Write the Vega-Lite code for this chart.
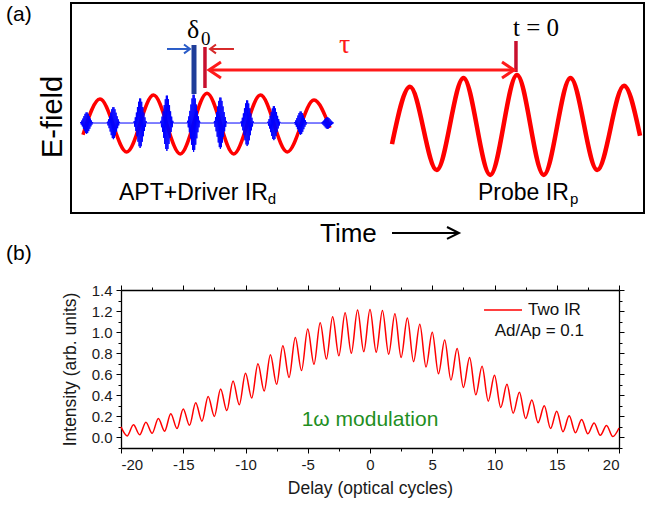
{
"$schema": "https://vega.github.io/schema/vega-lite/v6.json",
"background": "white",
"padding": {"left": 4, "top": 2, "right": 2, "bottom": 2},
"bounds": "flush",
"spacing": 77,
"config": {
  "font": "Liberation Sans",
  "view": {"stroke": null},
  "axis": {"grid": false, "domainColor": "#000000", "domainWidth": 1.3, "tickColor": "#000000", "tickWidth": 1, "labelFont": "Liberation Sans", "labelFontSize": 15, "labelColor": "#1a1a1a", "labelPadding": 4, "titleFont": "Liberation Sans", "titleFontSize": 17.5, "titleFontWeight": "normal", "titleColor": "#1a1a1a"}
},
"datasets": {
  "probe": [
    {"t": -2.336, "e": -0.41}, {"t": -2, "e": 0.76}, {"t": -1.5, "e": -0.94}, {"t": -1, "e": 0.94}, {"t": -0.5, "e": -1.04},
    {"t": 0, "e": 1.0}, {"t": 0.5, "e": -1.04}, {"t": 1, "e": 0.94}, {"t": 1.5, "e": -0.94}, {"t": 2, "e": 0.78}, {"t": 2.3, "e": -0.24}
  ],
  "driver": [
    {"t": -8.112, "e": -0.22}, {"t": -7.794, "e": 0.51}, {"t": -7.294, "e": -0.57}, {"t": -6.794, "e": 0.59}, {"t": -6.294, "e": -0.61},
    {"t": -5.794, "e": 0.63}, {"t": -5.294, "e": -0.61}, {"t": -4.794, "e": 0.59}, {"t": -4.294, "e": -0.57}, {"t": -3.794, "e": 0.49}, {"t": -3.495, "e": -0.08}
  ],
  "apt": [
    {"t":-8.164,"e":0.02},{"t":-8.154,"e":0.038},{"t":-8.144,"e":-0.013},{"t":-8.134,"e":0.071},{"t":-8.124,"e":-0.05},{"t":-8.114,"e":0.112},{"t":-8.104,"e":-0.097},{"t":-8.094,"e":0.161},{"t":-8.084,"e":-0.145},{"t":-8.074,"e":0.207},{"t":-8.064,"e":-0.185},{"t":-8.054,"e":0.236},{"t":-8.044,"e":-0.2},{"t":-8.034,"e":0.236},{"t":-8.024,"e":-0.185},{"t":-8.014,"e":0.207},{"t":-8.004,"e":-0.145},{"t":-7.994,"e":0.161},{"t":-7.984,"e":-0.097},{"t":-7.974,"e":0.112},{"t":-7.964,"e":-0.05},{"t":-7.954,"e":0.071},{"t":-7.944,"e":-0.013},{"t":-7.934,"e":0.038},{"t":-7.924,"e":0.02},
    {"t":-7.664,"e":0.02},{"t":-7.654,"e":0.046},{"t":-7.644,"e":-0.03},{"t":-7.634,"e":0.096},{"t":-7.624,"e":-0.086},{"t":-7.614,"e":0.159},{"t":-7.604,"e":-0.155},{"t":-7.594,"e":0.231},{"t":-7.584,"e":-0.228},{"t":-7.574,"e":0.301},{"t":-7.564,"e":-0.287},{"t":-7.554,"e":0.343},{"t":-7.544,"e":-0.31},{"t":-7.534,"e":0.343},{"t":-7.524,"e":-0.287},{"t":-7.514,"e":0.301},{"t":-7.504,"e":-0.228},{"t":-7.494,"e":0.231},{"t":-7.484,"e":-0.155},{"t":-7.474,"e":0.159},{"t":-7.464,"e":-0.086},{"t":-7.454,"e":0.096},{"t":-7.444,"e":-0.03},{"t":-7.434,"e":0.046},{"t":-7.424,"e":0.02},
    {"t":-7.164,"e":0.02},{"t":-7.154,"e":0.061},{"t":-7.144,"e":-0.057},{"t":-7.134,"e":0.137},{"t":-7.124,"e":-0.143},{"t":-7.114,"e":0.234},{"t":-7.104,"e":-0.25},{"t":-7.094,"e":0.346},{"t":-7.084,"e":-0.363},{"t":-7.074,"e":0.454},{"t":-7.064,"e":-0.454},{"t":-7.054,"e":0.52},{"t":-7.044,"e":-0.49},{"t":-7.034,"e":0.52},{"t":-7.024,"e":-0.454},{"t":-7.014,"e":0.454},{"t":-7.004,"e":-0.363},{"t":-6.994,"e":0.346},{"t":-6.984,"e":-0.25},{"t":-6.974,"e":0.234},{"t":-6.964,"e":-0.143},{"t":-6.954,"e":0.137},{"t":-6.944,"e":-0.057},{"t":-6.934,"e":0.061},{"t":-6.924,"e":0.02},
    {"t":-6.664,"e":0.02},{"t":-6.654,"e":0.066},{"t":-6.644,"e":-0.066},{"t":-6.634,"e":0.151},{"t":-6.624,"e":-0.162},{"t":-6.614,"e":0.259},{"t":-6.604,"e":-0.282},{"t":-6.594,"e":0.385},{"t":-6.584,"e":-0.408},{"t":-6.574,"e":0.505},{"t":-6.564,"e":-0.51},{"t":-6.554,"e":0.579},{"t":-6.544,"e":-0.55},{"t":-6.534,"e":0.579},{"t":-6.524,"e":-0.51},{"t":-6.514,"e":0.505},{"t":-6.504,"e":-0.408},{"t":-6.494,"e":0.385},{"t":-6.484,"e":-0.282},{"t":-6.474,"e":0.259},{"t":-6.464,"e":-0.162},{"t":-6.454,"e":0.151},{"t":-6.444,"e":-0.066},{"t":-6.434,"e":0.066},{"t":-6.424,"e":0.02},
    {"t":-6.164,"e":0.02},{"t":-6.154,"e":0.067},{"t":-6.144,"e":-0.069},{"t":-6.134,"e":0.156},{"t":-6.124,"e":-0.169},{"t":-6.114,"e":0.268},{"t":-6.104,"e":-0.293},{"t":-6.094,"e":0.398},{"t":-6.084,"e":-0.423},{"t":-6.074,"e":0.522},{"t":-6.064,"e":-0.529},{"t":-6.054,"e":0.598},{"t":-6.044,"e":-0.57},{"t":-6.034,"e":0.598},{"t":-6.024,"e":-0.529},{"t":-6.014,"e":0.522},{"t":-6.004,"e":-0.423},{"t":-5.994,"e":0.398},{"t":-5.984,"e":-0.293},{"t":-5.974,"e":0.268},{"t":-5.964,"e":-0.169},{"t":-5.954,"e":0.156},{"t":-5.944,"e":-0.069},{"t":-5.934,"e":0.067},{"t":-5.924,"e":0.02},
    {"t":-5.664,"e":0.02},{"t":-5.654,"e":0.062},{"t":-5.644,"e":-0.06},{"t":-5.634,"e":0.142},{"t":-5.624,"e":-0.15},{"t":-5.614,"e":0.243},{"t":-5.604,"e":-0.261},{"t":-5.594,"e":0.359},{"t":-5.584,"e":-0.378},{"t":-5.574,"e":0.471},{"t":-5.564,"e":-0.473},{"t":-5.554,"e":0.539},{"t":-5.544,"e":-0.51},{"t":-5.534,"e":0.539},{"t":-5.524,"e":-0.473},{"t":-5.514,"e":0.471},{"t":-5.504,"e":-0.378},{"t":-5.494,"e":0.359},{"t":-5.484,"e":-0.261},{"t":-5.474,"e":0.243},{"t":-5.464,"e":-0.15},{"t":-5.454,"e":0.142},{"t":-5.444,"e":-0.06},{"t":-5.434,"e":0.062},{"t":-5.424,"e":0.02},
    {"t":-5.164,"e":0.02},{"t":-5.154,"e":0.058},{"t":-5.144,"e":-0.051},{"t":-5.134,"e":0.128},{"t":-5.124,"e":-0.13},{"t":-5.114,"e":0.217},{"t":-5.104,"e":-0.229},{"t":-5.094,"e":0.321},{"t":-5.084,"e":-0.333},{"t":-5.074,"e":0.42},{"t":-5.064,"e":-0.417},{"t":-5.054,"e":0.481},{"t":-5.044,"e":-0.45},{"t":-5.034,"e":0.481},{"t":-5.024,"e":-0.417},{"t":-5.014,"e":0.42},{"t":-5.004,"e":-0.333},{"t":-4.994,"e":0.321},{"t":-4.984,"e":-0.229},{"t":-4.974,"e":0.217},{"t":-4.964,"e":-0.13},{"t":-4.954,"e":0.128},{"t":-4.944,"e":-0.051},{"t":-4.934,"e":0.058},{"t":-4.924,"e":0.02},
    {"t":-4.664,"e":0.02},{"t":-4.654,"e":0.048},{"t":-4.644,"e":-0.033},{"t":-4.634,"e":0.101},{"t":-4.624,"e":-0.092},{"t":-4.614,"e":0.167},{"t":-4.604,"e":-0.166},{"t":-4.594,"e":0.244},{"t":-4.584,"e":-0.243},{"t":-4.574,"e":0.318},{"t":-4.564,"e":-0.306},{"t":-4.554,"e":0.363},{"t":-4.544,"e":-0.33},{"t":-4.534,"e":0.363},{"t":-4.524,"e":-0.306},{"t":-4.514,"e":0.318},{"t":-4.504,"e":-0.243},{"t":-4.494,"e":0.244},{"t":-4.484,"e":-0.166},{"t":-4.474,"e":0.167},{"t":-4.464,"e":-0.092},{"t":-4.454,"e":0.101},{"t":-4.444,"e":-0.033},{"t":-4.434,"e":0.048},{"t":-4.424,"e":0.02},
    {"t":-4.164,"e":0.02},{"t":-4.154,"e":0.039},{"t":-4.144,"e":-0.016},{"t":-4.134,"e":0.075},{"t":-4.124,"e":-0.057},{"t":-4.114,"e":0.121},{"t":-4.104,"e":-0.107},{"t":-4.094,"e":0.174},{"t":-4.084,"e":-0.16},{"t":-4.074,"e":0.224},{"t":-4.064,"e":-0.203},{"t":-4.054,"e":0.255},{"t":-4.044,"e":-0.22},{"t":-4.034,"e":0.255},{"t":-4.024,"e":-0.203},{"t":-4.014,"e":0.224},{"t":-4.004,"e":-0.16},{"t":-3.994,"e":0.174},{"t":-3.984,"e":-0.107},{"t":-3.974,"e":0.121},{"t":-3.964,"e":-0.057},{"t":-3.954,"e":0.075},{"t":-3.944,"e":-0.016},{"t":-3.934,"e":0.039},{"t":-3.924,"e":0.02},
    {"t":-3.664,"e":0.02},{"t":-3.654,"e":0.03},{"t":-3.644,"e":0.002},{"t":-3.634,"e":0.048},{"t":-3.624,"e":-0.018},{"t":-3.614,"e":0.07},{"t":-3.604,"e":-0.044},{"t":-3.594,"e":0.097},{"t":-3.584,"e":-0.07},{"t":-3.574,"e":0.122},{"t":-3.564,"e":-0.092},{"t":-3.554,"e":0.138},{"t":-3.544,"e":-0.1},{"t":-3.534,"e":0.138},{"t":-3.524,"e":-0.092},{"t":-3.514,"e":0.122},{"t":-3.504,"e":-0.07},{"t":-3.494,"e":0.097},{"t":-3.484,"e":-0.044},{"t":-3.474,"e":0.07},{"t":-3.464,"e":-0.018},{"t":-3.454,"e":0.048},{"t":-3.444,"e":0.002},{"t":-3.434,"e":0.03},{"t":-3.424,"e":0.02}
  ],
  "curve": [
    {"d": -20, "i": 0.10}, {"d": -19.5, "i": 0.015}, {"d": -19, "i": 0.12}, {"d": -18.5, "i": 0.025}, {"d": -18, "i": 0.145}, {"d": -17.5, "i": 0.04},
    {"d": -17, "i": 0.18}, {"d": -16.5, "i": 0.06}, {"d": -16, "i": 0.225}, {"d": -15.5, "i": 0.085}, {"d": -15, "i": 0.27}, {"d": -14.5, "i": 0.115},
    {"d": -14, "i": 0.33}, {"d": -13.5, "i": 0.155}, {"d": -13, "i": 0.39}, {"d": -12.5, "i": 0.20}, {"d": -12, "i": 0.46}, {"d": -11.5, "i": 0.255},
    {"d": -11, "i": 0.535}, {"d": -10.5, "i": 0.31}, {"d": -10, "i": 0.61}, {"d": -9.5, "i": 0.375}, {"d": -9, "i": 0.70}, {"d": -8.5, "i": 0.44},
    {"d": -8, "i": 0.785}, {"d": -7.5, "i": 0.505}, {"d": -7, "i": 0.87}, {"d": -6.5, "i": 0.57}, {"d": -6, "i": 0.95}, {"d": -5.5, "i": 0.635},
    {"d": -5, "i": 1.03}, {"d": -4.5, "i": 0.695}, {"d": -4, "i": 1.09}, {"d": -3.5, "i": 0.745}, {"d": -3, "i": 1.145}, {"d": -2.5, "i": 0.775},
    {"d": -2, "i": 1.185}, {"d": -1.5, "i": 0.80}, {"d": -1, "i": 1.21}, {"d": -0.5, "i": 0.815}, {"d": 0, "i": 1.215}, {"d": 0.5, "i": 0.81},
    {"d": 1, "i": 1.205}, {"d": 1.5, "i": 0.79}, {"d": 2, "i": 1.175}, {"d": 2.5, "i": 0.76}, {"d": 3, "i": 1.135}, {"d": 3.5, "i": 0.72},
    {"d": 4, "i": 1.075}, {"d": 4.5, "i": 0.67}, {"d": 5, "i": 1.00}, {"d": 5.5, "i": 0.605}, {"d": 6, "i": 0.925}, {"d": 6.5, "i": 0.545},
    {"d": 7, "i": 0.845}, {"d": 7.5, "i": 0.475}, {"d": 8, "i": 0.76}, {"d": 8.5, "i": 0.405}, {"d": 9, "i": 0.675}, {"d": 9.5, "i": 0.345},
    {"d": 10, "i": 0.59}, {"d": 10.5, "i": 0.285}, {"d": 11, "i": 0.505}, {"d": 11.5, "i": 0.23}, {"d": 12, "i": 0.43}, {"d": 12.5, "i": 0.18},
    {"d": 13, "i": 0.355}, {"d": 13.5, "i": 0.14}, {"d": 14, "i": 0.30}, {"d": 14.5, "i": 0.085}, {"d": 15, "i": 0.25}, {"d": 15.5, "i": 0.055},
    {"d": 16, "i": 0.205}, {"d": 16.5, "i": 0.045}, {"d": 17, "i": 0.17}, {"d": 17.5, "i": 0.035}, {"d": 18, "i": 0.138}, {"d": 18.5, "i": 0.02},
    {"d": 19, "i": 0.114}, {"d": 19.5, "i": 0.008}, {"d": 20, "i": 0.09}
  ]
},
"vconcat": [
  {
    "width": 573,
    "height": 210,
    "view": {"stroke": "#000000", "strokeWidth": 2},
    "encoding": {
      "x": {"field": "t", "type": "quantitative", "scale": {"domain": [-8.336, 2.374], "nice": false, "zero": false}, "axis": null},
      "y": {"field": "e", "type": "quantitative", "scale": {"domain": [-1.816, 2.469], "nice": false, "zero": false}, "axis": null}
    },
    "layer": [
      {"data": {"name": "probe"}, "mark": {"type": "line", "color": "#ff0000", "strokeWidth": 4.5, "interpolate": "monotone"}},
      {"data": {"name": "driver"}, "mark": {"type": "line", "color": "#ff0000", "strokeWidth": 3.5, "interpolate": "monotone"}},
      {"data": {"name": "apt"}, "mark": {"type": "line", "color": "#0000ff", "strokeWidth": 1}},
      {"data": {"values": [{"t": -6.037, "e": 1.612, "e2": 0.612}]}, "mark": {"type": "rule", "color": "#1f3d99", "strokeWidth": 5}, "encoding": {"y2": {"field": "e2"}}},
      {"data": {"values": [{"t": -5.832, "e": 1.571, "e2": 0.735}, {"t": -0.019, "e": 1.694, "e2": 1.061}]}, "mark": {"type": "rule", "color": "#c8102e", "strokeWidth": 3.5}, "encoding": {"y2": {"field": "e2"}}},
      {"data": {"values": [
        {"t": -5.757, "e": 1.102, "p": "s", "k": 0}, {"t": -0.056, "e": 1.102, "p": "s", "k": 1},
        {"t": -5.533, "e": 1.265, "p": "l", "k": 0}, {"t": -5.757, "e": 1.102, "p": "l", "k": 1}, {"t": -5.533, "e": 0.939, "p": "l", "k": 2},
        {"t": -0.28, "e": 1.265, "p": "r", "k": 0}, {"t": -0.056, "e": 1.102, "p": "r", "k": 1}, {"t": -0.28, "e": 0.939, "p": "r", "k": 2}
      ]}, "mark": {"type": "line", "color": "#ff1a1a", "strokeWidth": 3}, "encoding": {"detail": {"field": "p"}, "order": {"field": "k"}}},
      {"data": {"values": [
        {"t": -6.542, "e": 1.531, "p": "s", "k": 0}, {"t": -6.112, "e": 1.531, "p": "s", "k": 1},
        {"t": -6.224, "e": 1.621, "p": "h", "k": 0}, {"t": -6.112, "e": 1.531, "p": "h", "k": 1}, {"t": -6.224, "e": 1.441, "p": "h", "k": 2}
      ]}, "mark": {"type": "line", "color": "#2a5cc8", "strokeWidth": 2}, "encoding": {"detail": {"field": "p"}, "order": {"field": "k"}}},
      {"data": {"values": [
        {"t": -5.738, "e": 1.531, "p": "s", "k": 0}, {"t": -5.29, "e": 1.531, "p": "s", "k": 1},
        {"t": -5.626, "e": 1.621, "p": "h", "k": 0}, {"t": -5.738, "e": 1.531, "p": "h", "k": 1}, {"t": -5.626, "e": 1.441, "p": "h", "k": 2}
      ]}, "mark": {"type": "line", "color": "#d62828", "strokeWidth": 2}, "encoding": {"detail": {"field": "p"}, "order": {"field": "k"}}},
      {"data": {"values": [
        {"t": -2.336, "e": -2.224, "p": "s", "k": 0}, {"t": -1.084, "e": -2.224, "p": "s", "k": 1},
        {"t": -1.308, "e": -2.102, "p": "h", "k": 0}, {"t": -1.084, "e": -2.224, "p": "h", "k": 1}, {"t": -1.308, "e": -2.346, "p": "h", "k": 2}
      ]}, "mark": {"type": "line", "color": "#000000", "strokeWidth": 2}, "encoding": {"detail": {"field": "p"}, "order": {"field": "k"}}},
      {"data": {"values": [{"t": -9.551, "e": 2.102, "s": "(a)"}]}, "mark": {"type": "text", "fontSize": 21, "align": "left", "baseline": "alphabetic", "color": "#000000"}, "encoding": {"text": {"field": "s"}}},
      {"data": {"values": [{"t": -7.439, "e": -1.551, "s": "APT+Driver IR"}, {"t": -0.729, "e": -1.551, "s": "Probe IR"}]}, "mark": {"type": "text", "fontSize": 23, "align": "left", "baseline": "alphabetic", "color": "#000000"}, "encoding": {"text": {"field": "s"}}},
      {"data": {"values": [{"t": -4.66, "e": -1.633, "s": "d"}, {"t": 0.99, "e": -1.633, "s": "p"}]}, "mark": {"type": "text", "fontSize": 15, "align": "left", "baseline": "alphabetic", "color": "#000000"}, "encoding": {"text": {"field": "s"}}},
      {"data": {"values": [{"t": -3.682, "e": -2.408, "s": "Time"}]}, "mark": {"type": "text", "fontSize": 26, "align": "left", "baseline": "alphabetic", "color": "#000000"}, "encoding": {"text": {"field": "s"}}},
      {"data": {"values": [{"t": -8.505, "e": 0.143, "s": "E-field"}]}, "mark": {"type": "text", "fontSize": 29, "align": "center", "baseline": "alphabetic", "angle": 270, "color": "#000000"}, "encoding": {"text": {"field": "s"}}},
      {"data": {"values": [{"t": -6.168, "e": 1.755, "s": "δ"}]}, "mark": {"type": "text", "font": "Liberation Serif", "fontSize": 26, "align": "left", "baseline": "alphabetic", "color": "#000000"}, "encoding": {"text": {"field": "s"}}},
      {"data": {"values": [{"t": -5.907, "e": 1.612, "s": "0"}]}, "mark": {"type": "text", "font": "Liberation Serif", "fontSize": 19, "align": "left", "baseline": "alphabetic", "color": "#000000"}, "encoding": {"text": {"field": "s"}}},
      {"data": {"values": [{"t": -3.327, "e": 1.449, "s": "τ"}]}, "mark": {"type": "text", "font": "Liberation Serif", "fontSize": 28, "align": "left", "baseline": "alphabetic", "color": "#ff1a1a"}, "encoding": {"text": {"field": "s"}}},
      {"data": {"values": [{"t": -0.075, "e": 1.796, "s": "t = 0"}]}, "mark": {"type": "text", "font": "Liberation Serif", "fontSize": 25, "align": "left", "baseline": "alphabetic", "color": "#000000"}, "encoding": {"text": {"field": "s"}}}
    ]
  },
  {
    "width": 548,
    "height": 158,
    "resolve": {"axis": {"x": "independent", "y": "independent"}},
    "layer": [
      {
        "data": {"name": "curve"},
        "mark": {"type": "line", "color": "#ff0000", "strokeWidth": 1.5, "interpolate": "monotone"},
        "encoding": {
          "x": {"field": "d", "type": "quantitative", "scale": {"domain": [-20, 20], "range": [50, 548], "nice": false, "zero": false},
                "axis": {"orient": "bottom", "values": [-20, -17.5, -15, -12.5, -10, -7.5, -5, -2.5, 0, 2.5, 5, 7.5, 10, 12.5, 15, 17.5, 20],
                         "labelExpr": "datum.value % 5 === 0 ? '' + datum.value : ''",
                         "tickSize": {"condition": {"test": "datum.value % 5 !== 0", "value": 3}, "value": 5},
                         "title": "Delay (optical cycles)", "titlePadding": 7}},
          "y": {"field": "i", "type": "quantitative", "scale": {"domain": [-0.1, 1.4], "nice": false, "zero": false},
                "axis": {"orient": "left", "offset": -50, "values": [-0.1, 0, 0.1, 0.2, 0.3, 0.4, 0.5, 0.6, 0.7, 0.8, 0.9, 1, 1.1, 1.2, 1.3, 1.4],
                         "labelExpr": "round(datum.value * 10) % 2 === 0 ? format(datum.value, '.1f') : ''",
                         "tickSize": {"condition": {"test": "round(datum.value * 10) % 2 !== 0", "value": 3}, "value": 5},
                         "title": "Intensity (arb. units)", "titlePadding": 12}}
        }
      },
      {
        "data": {"values": [{"d": 0, "i": 0.162, "s": "1ω modulation"}]},
        "mark": {"type": "text", "fontSize": 21, "color": "#1f8f1f", "align": "center", "baseline": "middle"},
        "encoding": {
          "x": {"field": "d", "type": "quantitative", "scale": {"domain": [-20, 20], "range": [50, 548], "nice": false, "zero": false},
                "axis": {"orient": "top", "values": [-20, -17.5, -15, -12.5, -10, -7.5, -5, -2.5, 0, 2.5, 5, 7.5, 10, 12.5, 15, 17.5, 20], "labels": false, "title": null,
                         "tickSize": {"condition": {"test": "datum.value % 5 !== 0", "value": 3}, "value": 5}}},
          "y": {"field": "i", "type": "quantitative", "scale": {"domain": [-0.1, 1.4], "nice": false, "zero": false},
                "axis": {"orient": "right", "values": [-0.1, 0, 0.1, 0.2, 0.3, 0.4, 0.5, 0.6, 0.7, 0.8, 0.9, 1, 1.1, 1.2, 1.3, 1.4], "labels": false, "title": null,
                         "tickSize": {"condition": {"test": "round(datum.value * 10) % 2 !== 0", "value": 3}, "value": 5}}},
          "text": {"field": "s"}
        }
      },
      {
        "data": {"values": [{"d": 9.16, "d2": 12.21, "i": 1.21}]},
        "mark": {"type": "rule", "color": "#ff0000", "strokeWidth": 1.5},
        "encoding": {
          "x": {"field": "d", "type": "quantitative", "scale": {"domain": [-20, 20], "range": [50, 548], "nice": false, "zero": false}, "axis": null},
          "x2": {"field": "d2"},
          "y": {"field": "i", "type": "quantitative", "scale": {"domain": [-0.1, 1.4], "nice": false, "zero": false}, "axis": null}
        }
      },
      {
        "data": {"values": [{"d": 12.69, "i": 1.21, "s": "Two IR"}]},
        "mark": {"type": "text", "fontSize": 17, "color": "#111111", "align": "left", "baseline": "middle"},
        "encoding": {
          "x": {"field": "d", "type": "quantitative", "scale": {"domain": [-20, 20], "range": [50, 548], "nice": false, "zero": false}, "axis": null},
          "y": {"field": "i", "type": "quantitative", "scale": {"domain": [-0.1, 1.4], "nice": false, "zero": false}, "axis": null},
          "text": {"field": "s"}
        }
      },
      {
        "data": {"values": [{"d": 17.19, "i": 1.01, "s": "Ad/Ap = 0.1"}]},
        "mark": {"type": "text", "fontSize": 17, "color": "#111111", "align": "right", "baseline": "middle"},
        "encoding": {
          "x": {"field": "d", "type": "quantitative", "scale": {"domain": [-20, 20], "range": [50, 548], "nice": false, "zero": false}, "axis": null},
          "y": {"field": "i", "type": "quantitative", "scale": {"domain": [-0.1, 1.4], "nice": false, "zero": false}, "axis": null},
          "text": {"field": "s"}
        }
      },
      {
        "data": {"values": [{"d": -29.237, "i": 1.686, "s": "(b)"}]},
        "mark": {"type": "text", "fontSize": 21, "color": "#000000", "align": "left", "baseline": "alphabetic"},
        "encoding": {
          "x": {"field": "d", "type": "quantitative", "scale": {"domain": [-20, 20], "range": [50, 548], "nice": false, "zero": false}, "axis": null},
          "y": {"field": "i", "type": "quantitative", "scale": {"domain": [-0.1, 1.4], "nice": false, "zero": false}, "axis": null},
          "text": {"field": "s"}
        }
      }
    ]
  }
]
}
